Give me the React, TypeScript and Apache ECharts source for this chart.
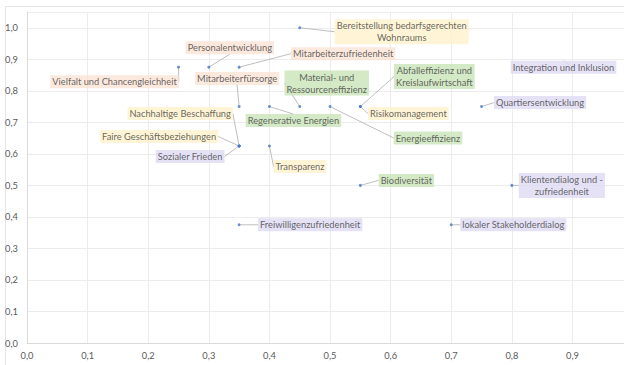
import React, { useEffect, useRef } from "react";
import * as echarts from "echarts";

const names = [
  "Bereitstellung bedarfsgerechten\nWohnraums",
  "Personalentwicklung",
  "Mitarbeiterzufriedenheit",
  "Vielfalt und Chancengleichheit",
  "Mitarbeiterfürsorge",
  "Material- und\nRessourceneffizienz",
  "Abfalleffizienz und\nKreislaufwirtschaft",
  "Integration und Inklusion",
  "Quartiersentwicklung",
  "Nachhaltige Beschaffung",
  "Regenerative Energien",
  "Risikomanagement",
  "Energieeffizienz",
  "Faire Geschäftsbeziehungen",
  "Sozialer Frieden",
  "Transparenz",
  "Biodiversität",
  "Klientendialog und -\nzufriedenheit",
  "Freiwilligenzufriedenheit",
  "lokaler Stakeholderdialog",
];
const xValues = [0.45, 0.3, 0.35, 0.25, 0.35, 0.45, 0.55, 0.9, 0.75, 0.35, 0.4, 0.55, 0.5, 0.35, 0.35, 0.4, 0.55, 0.8, 0.35, 0.7];
const yValues = [1.0, 0.875, 0.875, 0.875, 0.75, 0.75, 0.75, 0.875, 0.75, 0.625, 0.75, 0.75, 0.75, 0.625, 0.625, 0.625, 0.5, 0.5, 0.375, 0.375];
// category group: 0 = Personal, 1 = Governance, 2 = Umwelt, 3 = Soziales
const groups = [1, 0, 0, 0, 0, 2, 2, 3, 3, 1, 2, 1, 2, 1, 3, 1, 2, 3, 3, 3];
const xTicks = [0, 0.1, 0.2, 0.3, 0.4, 0.5, 0.6, 0.7, 0.8, 0.9];

const groupColors = ["#FBE3D6", "#FFF2CC", "#C9E3B8", "#DEDBF3"];
const labelOffsets: [number, number][] = [
  [102, 4], [21, -19.5], [104, -13.5], [-64, 14.5], [-2, -28],
  [27, -23.5], [74, -30], [-9, 0], [58.5, -4], [-59, -32.5],
  [24, 14], [48, 7], [98, 31.5], [-80, -9.5], [-49, 10.5],
  [30.6, 20.5], [46, -5], [50, 0], [71, 0], [62, 0],
];

const fmt = (v: number) => v.toFixed(1).replace(".", ",");

export default function App() {
  const ref = useRef<HTMLDivElement>(null);
  useEffect(() => {
    document.body.style.margin = "0";
    if (!ref.current) return;
    const chart = echarts.init(ref.current, null, { renderer: "svg" });
    const data = names.map((n, i) => ({
      name: n,
      value: [xValues[i], yValues[i]],
      label: { backgroundColor: groupColors[groups[i]] },
    }));
    chart.setOption({
      animation: false,
      backgroundColor: "#ffffff",
      graphic: [
        {
          type: "rect",
          shape: { x: 5.5, y: 6.5, width: 700, height: 400 },
          style: { fill: "none", stroke: "#e6e6e6", lineWidth: 1 },
          silent: true,
          z: -10,
        },
      ],
      grid: { left: 27, top: 12, width: 597, height: 331, containLabel: false },
      xAxis: {
        type: "value",
        min: 0,
        max: 0.985,
        interval: 0.1,
        axisLine: { show: true, lineStyle: { color: "#d9d9d9" } },
        axisTick: { show: false },
        splitLine: { show: true, lineStyle: { color: "#ececec" } },
        axisLabel: {
          showMaxLabel: false,
          margin: 8,
          color: "#595959",
          fontSize: 9.3,
          fontFamily: "Lato",
          formatter: (v: number) => (xTicks.some((t) => Math.abs(t - v) < 1e-6) ? fmt(v) : ""),
        },
      },
      yAxis: {
        type: "value",
        min: 0,
        max: 1.05,
        interval: 0.1,
        axisLine: { show: true, lineStyle: { color: "#d9d9d9" } },
        axisTick: { show: false },
        splitLine: { show: true, lineStyle: { color: "#ececec" } },
        axisLabel: {
          showMaxLabel: false,
          margin: 9,
          color: "#595959",
          fontSize: 9.3,
          fontFamily: "Lato",
          formatter: (v: number) => (v <= 1.0001 ? fmt(v) : ""),
        },
      },
      series: [
        {
          type: "scatter",
          symbol: "circle",
          symbolSize: 3,
          itemStyle: { color: "#4472C4" },
          data,
          label: {
            show: true,
            position: "inside",
            formatter: "{b}",
            align: "center",
            verticalAlign: "middle",
            color: "#404040",
            fontSize: 9.3,
            fontFamily: "Lato",
            lineHeight: 12,
            padding: [1, 2, 0, 2],
          },
          labelLine: {
            show: true,
            lineStyle: { color: "#bfbfbf", width: 1 },
          },
          labelLayout: (params: any) => ({
            dx: labelOffsets[params.dataIndex][0],
            dy: labelOffsets[params.dataIndex][1],
          }),
        },
      ],
    });
    return () => chart.dispose();
  }, []);
  return <div ref={ref} style={{ width: 624, height: 365 }} />;
}
